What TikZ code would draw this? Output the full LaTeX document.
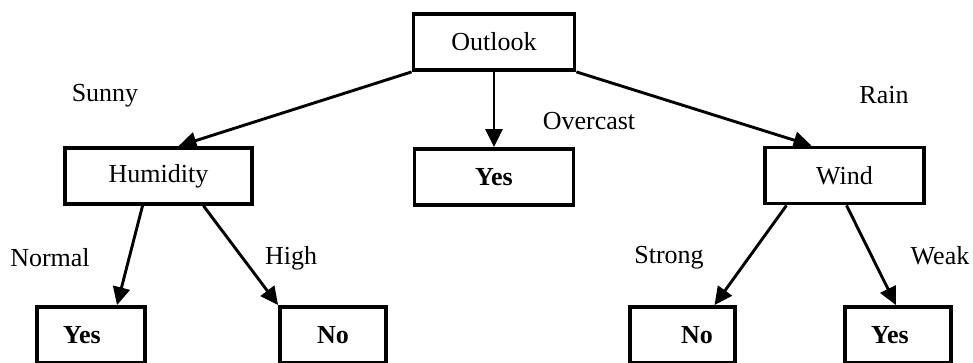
\documentclass[tikz,border=0pt]{standalone}
\usepackage{fontspec}
\setmainfont{Liberation Serif}
\usetikzlibrary{arrows.meta,calc}

\begin{document}
\begin{tikzpicture}[x=1pt, y=-1pt,
    box/.style={draw, line width=3.8pt, minimum height=56pt, inner sep=0pt, font=\fontsize{26}{30}\selectfont},
    leaf/.style={box, font=\fontsize{26}{30}\selectfont\bfseries},
    branch/.style={font=\fontsize{26}{30}\selectfont},
    edge/.style={line width=2.9pt, -{Triangle[length=18pt,width=17pt]}}]
    \clip (0,0) rectangle (973,362);

    %coordinates
    \coordinate (OL) at (494,42);
    \coordinate (HU) at (158.5,176);
    \coordinate (OC) at (494,177);
    \coordinate (WI) at (844.5,175.5);

    \coordinate (NO0) at (91,335);
    \coordinate (HI0) at (333,335);
    \coordinate (ST0) at (682.5,335);
    \coordinate (WE0) at (898,335);

    %nodes
    \node[box, minimum width=161pt] (outlook) at (OL) {Outlook};
    \node[box, minimum width=187pt] (humidity) at (HU) {Humidity};
    \node[leaf, minimum width=159pt] (yes0) at (OC) {Yes};
    \node[box, minimum width=159pt] (wind) at (WI) {Wind};

    \node[leaf, minimum width=108pt] (yes1) at (NO0) {Yes\hspace*{18pt}};
    \node[leaf, minimum width=106pt] (no1) at (HI0) {No};
    \node[leaf, minimum width=105pt] (no2) at (ST0) {\hspace*{29pt}No};
    \node[leaf, minimum width=106pt] (yes2) at (WE0) {Yes\hspace*{16pt}};

    %labels
    \node[branch] (sunny) at (105,96) {Sunny};
    \node[branch] (overcast) at (589,121) {Overcast};
    \node[branch] (rain) at (884,95) {Rain};
    \node[branch] (normal) at (50,258) {Normal};
    \node[branch] (high) at (291,258) {High};
    \node[branch] (strong) at (669,258) {Strong};
    \node[branch] (weak) at (940,256) {Weak};

    %edges
    \draw[edge] (outlook.south west) -- ($(humidity.north) + (20,0)$);
    \draw[edge] (outlook.south) -- (yes0.north);
    \draw[edge] (outlook.south east) -- ($(wind.north) + (-33,0)$);

    \draw[edge] ($(humidity.south) + (-16,0)$) -- ($(yes1.north) + (26,0)$);
    \draw[edge] ($(humidity.south) + (45,0)$) -- (no1.north west);

    \draw[edge] ($(wind.south) + (-58,0)$) -- ($(no2.north) + (32,0)$);
    \draw[edge] ($(wind.south) + (2,0)$) -- ($(yes2.north) + (-2,0)$);
\end{tikzpicture}
\end{document}
